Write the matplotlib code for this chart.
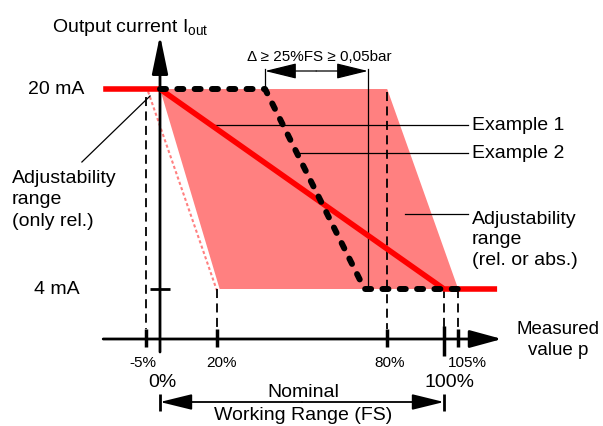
import numpy as np
import matplotlib
matplotlib.use("Agg")
from matplotlib import pyplot as plt

plt.rcParams['font.family'] = ['Liberation Sans', 'DejaVu Sans']
plt.rcParams['mathtext.fontset'] = 'custom'
plt.rcParams['mathtext.rm'] = 'Liberation Sans'

# x in % of full scale, y in mA
ex1_x = [-20, 0, 100, 118.7]
ex1_y = [20, 20, 4, 4]
ex2_x = [0, 37, 72, 105]
ex2_y = [20, 20, 4, 4]
adj_x = [0, 80, 105, 21]
adj_y = [20, 20, 4, 4]
small_ticks = [-5, 20, 80, 105]
small_labels = ["-5%", "20%", "80%", "105%"]
label_shift = [-1, 1.8, 0.7, 3.2]
big_ticks = [0, 100]
big_labels = ["0%", "100%"]
ma_levels = [20, 4]
ma_labels = ["20 mA", "4 mA"]

PINK = '#ff8080'
RED = '#ff0000'
FS = 14
FS_SMALL = 11


def arrow(ax, start, end, style='-|>', hl=0.8, hw=0.22, lw=2.0):
    ax.annotate('', xy=end, xytext=start,
                arrowprops=dict(arrowstyle=f'{style},head_length={hl},head_width={hw}',
                                mutation_scale=18, lw=lw, color='black',
                                shrinkA=0, shrinkB=0))


def main():
    fig = plt.figure(figsize=(6.03, 4.27), dpi=100)
    ax = fig.add_axes([0, 0, 1, 1])
    ax.set_xlim(-56.34, 155.99)
    ax.set_ylim(-6.96, 27.2)
    ax.axis('off')

    # adjustable area
    ax.fill(adj_x, adj_y, color=PINK, lw=0, zorder=1)
    ax.plot([-4.2, 20], [19.8, 3.9], color=PINK, lw=1.5, ls=(0, (1.5, 1.2)), zorder=1)

    # dashed helper verticals
    dash = dict(color='black', lw=1.3, ls=(0, (5, 3)), zorder=2)
    ax.plot([-5, -5], [19.4, 0.8], **dash)
    ax.plot([20, 20], [4, 0.8], **dash)
    ax.plot([80, 80], [19.8, 0.8], **dash)
    ax.plot([100, 100], [4, 1.0], **dash)
    ax.plot([105, 105], [4, 1.0], **dash)

    # axes
    arrow(ax, (-20, 0), (120.4, 0), hl=1.1, hw=0.3)
    arrow(ax, (0, -1.04), (0, 24.3), hl=1.3, hw=0.27)
    ax.vlines(small_ticks, -0.64, 0.8, color='black', lw=2.5, zorder=3)
    ax.vlines([100], -1.36, 1.04, color='black', lw=2.5, zorder=3)
    ax.hlines([4], -3.5, 3.5, color='black', lw=2.0, zorder=3)

    # curves
    ax.plot(ex1_x, ex1_y, color=RED, lw=4.0, solid_capstyle='butt', zorder=4)
    ax.plot(ex2_x, ex2_y, color='black', lw=4.3, ls=(0, (1.0, 1.9)),
            dash_capstyle='round', zorder=5)

    # leaders
    thin = dict(color='black', lw=0.9, zorder=3)
    ax.plot([18.7, 108.5], [17.12, 17.12], **thin)
    ax.plot([47.5, 108.5], [14.88, 14.88], **thin)
    ax.plot([86.3, 108.5], [10, 10], **thin)
    ax.plot([-27.5, -3.5], [14.16, 19.44], **thin)

    # delta annotation
    ax.plot([37, 37], [20, 21.6], **thin)
    ax.plot([73.2, 73.2], [21.6, 4.1], **thin)
    arrow(ax, (55, 21.44), (37, 21.44), hl=1.1, hw=0.27, lw=0.9)
    arrow(ax, (55, 21.44), (73.2, 21.44), hl=1.1, hw=0.27, lw=0.9)
    ax.text(56.2, 22.64, "Δ ≥ 25%FS ≥ 0,05bar", fontsize=FS_SMALL, ha='center', va='center')

    # nominal working range
    arrow(ax, (50, -5.04), (0, -5.04), hl=1.1, hw=0.27, lw=1.3)
    arrow(ax, (50, -5.04), (100, -5.04), hl=1.1, hw=0.27, lw=1.3)
    ax.vlines(big_ticks, -5.76, -4.4, color='black', lw=2.0)
    ax.text(50.5, -4.2, "Nominal", fontsize=FS, ha='center', va='center')
    ax.text(50.5, -6.08, "Working Range (FS)", fontsize=FS, ha='center', va='center')

    # labels
    for t, lab, s in zip(small_ticks, small_labels, label_shift):
        ax.text(t + s, -1.84, lab, fontsize=FS_SMALL, ha='center', va='center')
    for t, lab, s in zip(big_ticks, big_labels, [0.7, 1.8]):
        ax.text(t + s, -3.44, lab, fontsize=FS, ha='center', va='center')
    for lvl, lab in zip(ma_levels, ma_labels):
        ax.text(-36.5, lvl, lab, fontsize=FS, ha='center', va='center')

    ax.text(-38.0, 24.64, r"Output current I$_{\mathrm{out}}$", fontsize=FS,
            ha='left', va='baseline')
    ax.text(140.1, 0.0, "Measured\nvalue p", fontsize=13.5, ha='center', va='center',
            linespacing=1.3)
    ax.text(109.9, 17.12, "Example 1", fontsize=FS, ha='left', va='center')
    ax.text(109.9, 14.88, "Example 2", fontsize=FS, ha='left', va='center')
    ax.text(109.9, 8.0, "Adjustability\nrange\n(rel. or abs.)", fontsize=FS,
            ha='left', va='center', linespacing=1.3)
    ax.text(-52.1, 11.2, "Adjustability\nrange\n(only rel.)", fontsize=FS,
            ha='left', va='center', linespacing=1.35)

    fig.savefig("out.png", dpi=100)


if __name__ == "__main__":
    main()
